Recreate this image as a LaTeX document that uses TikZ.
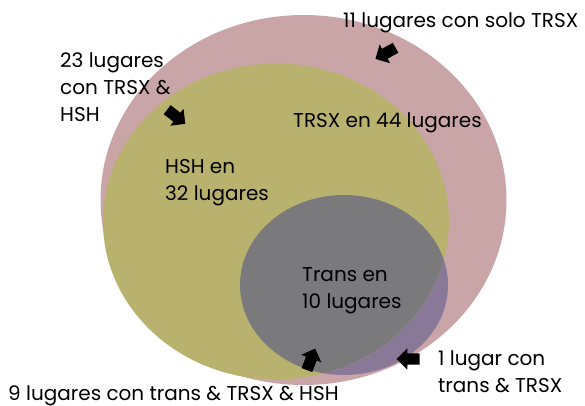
\documentclass[tikz,border=0pt]{standalone}
\usepackage{fontspec}
\setmainfont{Poppins}
\usetikzlibrary{shapes.arrows}
\definecolor{pinkc}{RGB}{201,165,168}
\definecolor{olivec}{RGB}{185,178,111}
\definecolor{grayc}{RGB}{122,121,124}
\definecolor{purplec}{RGB}{138,120,152}
\tikzset{
  lbl/.style={inner sep=0pt, anchor=base west, align=left, font=\fontsize{20}{27}\selectfont, text=black},
  blockarrow/.style={single arrow, fill=black, draw=none, inner sep=5.5pt, minimum height=23pt, single arrow head extend=5pt, anchor=center},
}
\begin{document}
\begin{tikzpicture}[x=1pt,y=-1pt]
\useasboundingbox (0,0) rectangle (585,406);
% sets
\fill[pinkc] (303.5,200) ellipse [x radius=203, y radius=185];
\fill[purplec] (344,285) ellipse [x radius=104, y radius=90];
\fill[olivec] (276,221.5) ellipse [x radius=173, y radius=158];
\begin{scope}
  \clip (276,221.5) ellipse [x radius=173, y radius=158];
  \fill[grayc] (344,285) ellipse [x radius=104, y radius=90];
\end{scope}
% labels (base = baseline of the last line)
\node[lbl] (solo) at (343,28) {11 lugares con solo TRSX};
\node[lbl] (dos) at (60,122) {23 lugares\\con TRSX \&\\HSH};
\node[lbl] (trsx) at (293,128) {TRSX en 44 lugares};
\node[lbl] (hsh) at (165,200) {HSH en\\32 lugares};
\node[lbl] (trans) at (302,308) {Trans en\\10 lugares};
\node[lbl] (nueve) at (8,400) {9 lugares con trans \& TRSX \& HSH};
\node[lbl] (uno) at (438,392) {1 lugar con\\trans \& TRSX};
% pointers
\node[blockarrow, rotate=209] (a1) at (388,52) {};
\node[blockarrow, rotate=-38] (a2) at (174,115) {};
\node[blockarrow, rotate=69] (a3) at (310,362) {};
\node[blockarrow, rotate=180] (a4) at (411,359) {};
\end{tikzpicture}
\end{document}
